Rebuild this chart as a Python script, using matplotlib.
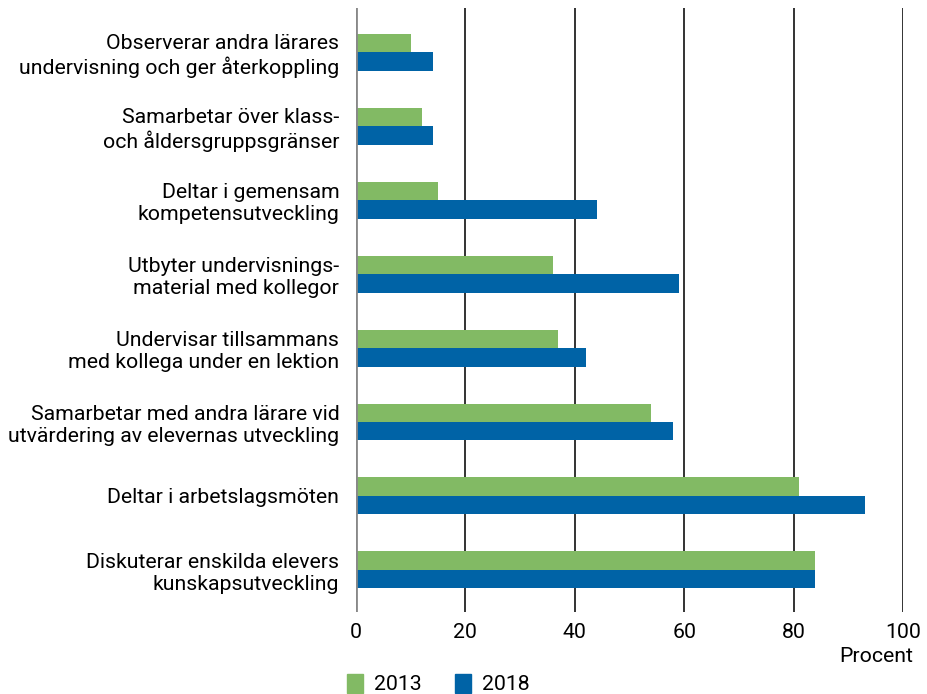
import matplotlib
matplotlib.use("Agg")
import matplotlib.pyplot as plt
import numpy as np
from matplotlib.patches import Patch

categories = [
    "Observerar andra lärares\nundervisning och ger återkoppling",
    "Samarbetar över klass-\noch åldersgruppsgränser",
    "Deltar i gemensam\nkompetensutveckling",
    "Utbyter undervisnings-\nmaterial med kollegor",
    "Undervisar tillsammans\nmed kollega under en lektion",
    "Samarbetar med andra lärare vid\nutvärdering av elevernas utveckling",
    "Deltar i arbetslagsmöten",
    "Diskuterar enskilda elevers\nkunskapsutveckling",
]
values_2013 = [10, 12, 15, 36, 37, 54, 81, 84]
values_2018 = [14, 14, 44, 59, 42, 58, 93, 84]
series_names = ["2013", "2018"]
xticks = [0, 20, 40, 60, 80, 100]

green = "#82ba64"
blue = "#0063a6"

plt.rcParams['font.family'] = ['Roboto', 'DejaVu Sans']
fs = 15.3

fig = plt.figure(figsize=(9.27, 6.94), dpi=100)
ax = fig.add_axes([356/927, 1-612/694, (903-356)/927, (612-8)/694])

y = np.arange(len(categories))
h = 0.25
ax.barh(y - h/2, values_2013, height=h, color=green, zorder=3)
ax.barh(y + h/2, values_2018, height=h, color=blue, zorder=3)

ax.set_xlim(0, 100)
ax.set_ylim(len(categories) - 1 + 0.57, -0.6)
ax.set_yticks(y)
ax.set_yticklabels(categories, fontsize=fs, ha='right', linespacing=1.2)
ax.tick_params(axis='y', length=0, pad=12)
ax.set_xticks(xticks)
ax.set_xticklabels([str(t) for t in xticks], fontsize=fs)
ax.tick_params(axis='x', length=0, pad=8)

for t in xticks[1:]:
    ax.axvline(t, color="#333333", lw=1.4, zorder=1)
ax.axvline(0, color="#888888", lw=2, zorder=4)

for s in ax.spines.values():
    s.set_visible(False)

fig.text(913/927, 1-657/694, "Procent", ha='right', va='center', fontsize=fs)

handles = [Patch(color=green), Patch(color=blue)]
fig.legend(handles, series_names, loc='center left', bbox_to_anchor=(347/927, 1-684/694),
           ncol=2, frameon=False, fontsize=fs, handlelength=0.75, handleheight=1.0,
           handletextpad=0.5, columnspacing=1.6, borderaxespad=0, borderpad=0)

fig.savefig("out.png", dpi=100)
